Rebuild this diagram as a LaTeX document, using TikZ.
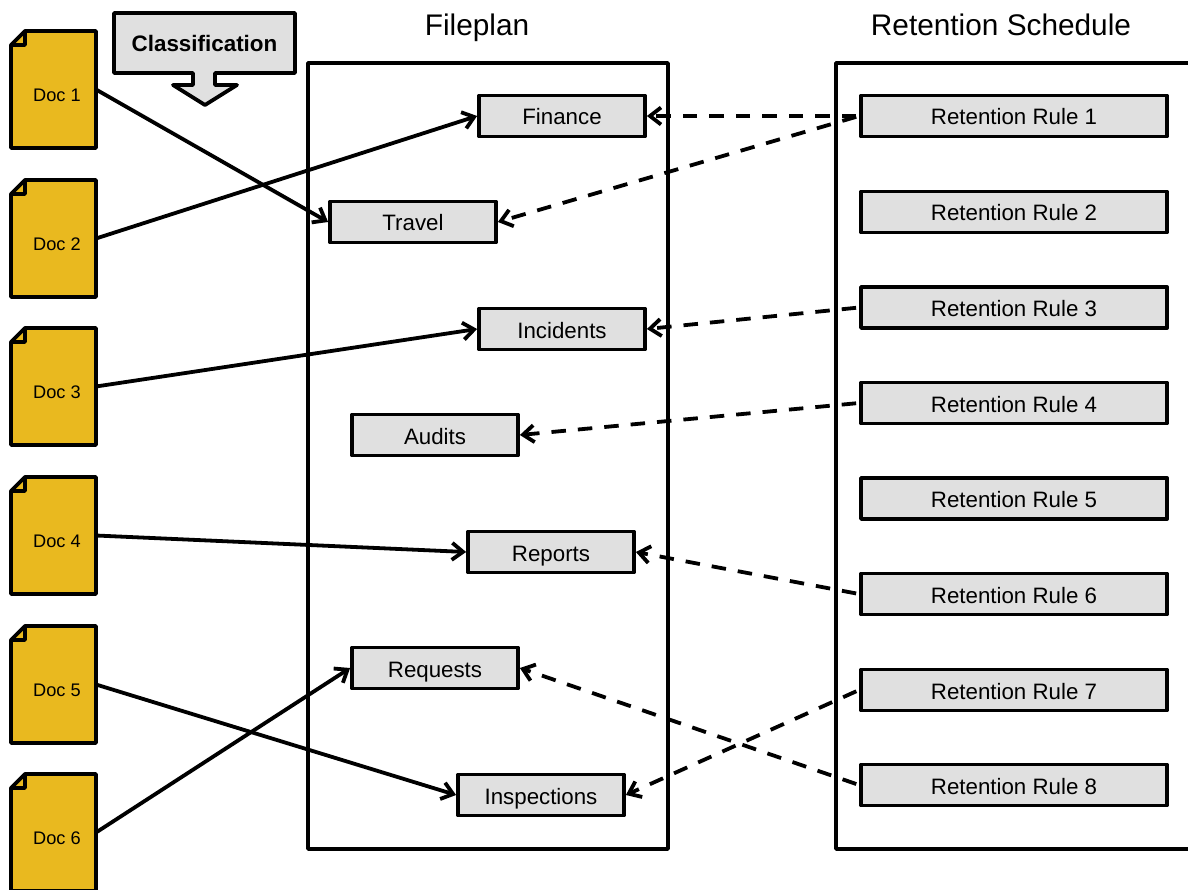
\documentclass[tikz,border=0pt]{standalone}
\usepackage{fontspec}
\setmainfont{Liberation Sans}
\usetikzlibrary{arrows.meta,backgrounds}
\definecolor{boxgray}{HTML}{E0E0E0}
\definecolor{docgold}{HTML}{E9B91F}
\tikzset{
  lw/.style={line width=3.8pt,line join=round},
  itembox/.style={lw,draw=black,fill=boxgray,rectangle,minimum width=166pt,minimum height=41pt,inner sep=0pt,text height=18pt,text depth=0pt,font=\fontsize{22.3}{26}\selectfont},
  rulebox/.style={itembox,minimum width=306pt},
  panel/.style={lw,draw=black},
  paneltitle/.style={font=\fontsize{29.8}{34}\selectfont,inner sep=0pt,anchor=base},
  docbox/.style={rectangle,minimum width=85pt,minimum height=117pt,inner sep=0pt,outer sep=0pt,font=\fontsize{18.2}{22}\selectfont},
  docshape/.style={lw,draw=black,fill=docgold},
  solidlink/.style={lw,-{Straight Barb[length=11pt,width=17pt,line width=3.8pt]}},
  dashlink/.style={solidlink,dash pattern=on 14.5pt off 12pt,dash phase=23.5pt},
}
\newcommand{\docitem}[3]{%
  \node[docbox] (#1) at (53.5,#2) {\raisebox{-12pt}[0pt][0pt]{\hspace{7pt}#3}};
  \begin{scope}[on background layer]
    \draw[docshape] ([yshift=-14pt]#1.north west) -- ([xshift=14pt]#1.north west) -- (#1.north east) -- (#1.south east) -- (#1.south west) -- cycle;
    \draw[lw] ([xshift=14pt]#1.north west) -- ([xshift=14pt,yshift=-14pt]#1.north west) -- ([yshift=-14pt]#1.north west);
  \end{scope}
}
\begin{document}
\begin{tikzpicture}[x=1pt,y=-1pt]
\useasboundingbox (0,0) rectangle (1188,890);
% panels
\draw[panel] (308,63) rectangle (668,849);
\draw[panel] (1192,63) -- (836,63) -- (836,849) -- (1192,849);
\node[paneltitle] (fptitle) at (477,36) {Fileplan};
\node[paneltitle] (rstitle) at (1001,36) {Retention Schedule};
% classification callout
\draw[lw,fill=boxgray] (114,13) -- (295,13) -- (295,73) -- (215,73) -- (215,85) -- (237,85) -- (205,105) -- (173,85) -- (193,85) -- (193,73) -- (114,73) -- cycle;
\node[font=\fontsize{22.4}{26}\selectfont\bfseries,inner sep=0pt,anchor=base] (cls) at (204.5,52) {Classification};
% documents
\docitem{d1}{89.5}{Doc 1}
\docitem{d2}{238.5}{Doc 2}
\docitem{d3}{386.5}{Doc 3}
\docitem{d4}{535.5}{Doc 4}
\docitem{d5}{684.5}{Doc 5}
\docitem{d6}{832.5}{Doc 6}
% fileplan items
\node[itembox] (fin) at (562,116) {Finance};
\node[itembox] (trv) at (413,222) {Travel};
\node[itembox] (inc) at (562,329) {Incidents};
\node[itembox] (aud) at (435,435) {Audits};
\node[itembox] (rep) at (551,552) {Reports};
\node[itembox] (req) at (435,668) {Requests};
\node[itembox] (ins) at (541,795) {Inspections};
% retention rules
\node[rulebox] (r1) at (1014,116) {Retention Rule 1};
\node[rulebox] (r2) at (1014,212) {Retention Rule 2};
\node[rulebox] (r3) at (1014,307.5) {Retention Rule 3};
\node[rulebox] (r4) at (1014,403) {Retention Rule 4};
\node[rulebox] (r5) at (1014,498.5) {Retention Rule 5};
\node[rulebox] (r6) at (1014,594) {Retention Rule 6};
\node[rulebox] (r7) at (1014,690) {Retention Rule 7};
\node[rulebox] (r8) at (1014,785) {Retention Rule 8};
% solid links
\draw[solidlink] (d1.east) -- (trv.west);
\draw[solidlink] (d2.east) -- (fin.west);
\draw[solidlink] (d3.east) -- (inc.west);
\draw[solidlink] (d4.east) -- (rep.west);
\draw[solidlink] (d5.east) -- (ins.west);
\draw[solidlink] (d6.east) -- (req.west);
% dashed links
\draw[dashlink] (r1.west) -- (fin.east);
\draw[dashlink] (r1.west) -- (trv.east);
\draw[dashlink] (r3.west) -- (inc.east);
\draw[dashlink] (r4.west) -- (aud.east);
\draw[dashlink] (r6.west) -- (rep.east);
\draw[dashlink] (r7.west) -- (ins.east);
\draw[dashlink] (r8.west) -- (req.east);
\end{tikzpicture}
\end{document}
